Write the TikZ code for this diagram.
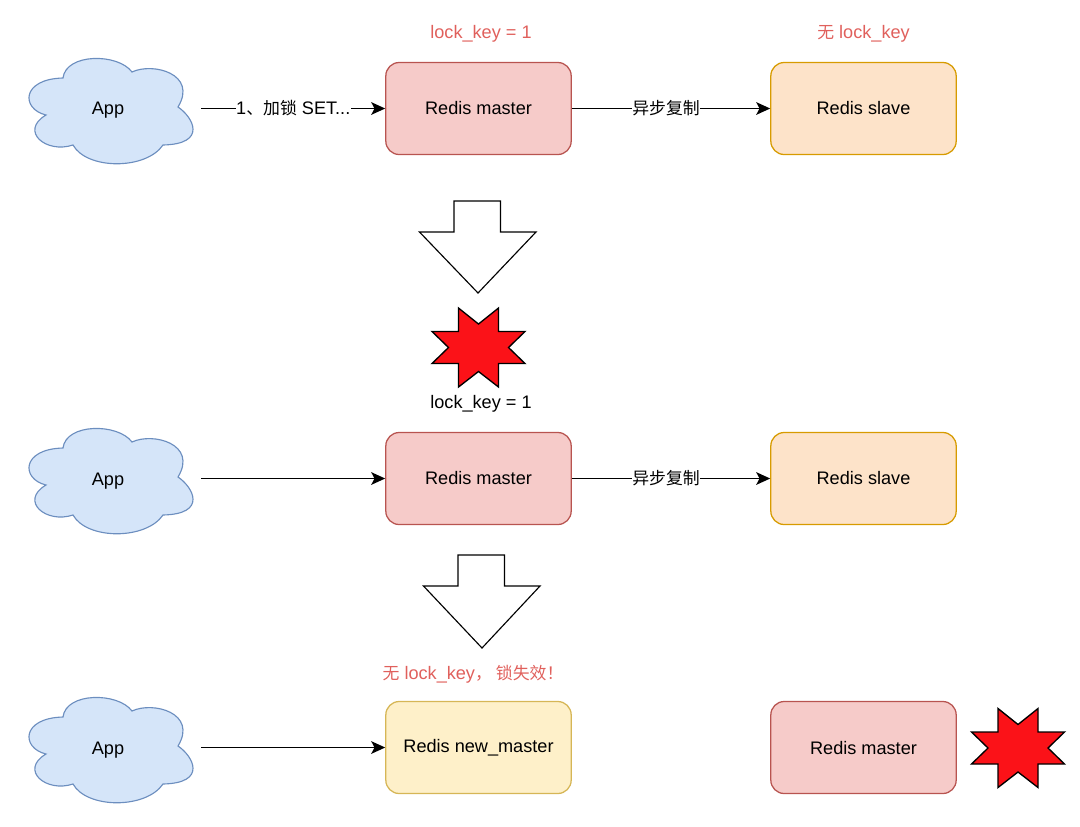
\documentclass[tikz,border=0pt]{standalone}
\usepackage{fontspec}
\setmainfont{Liberation Sans}
\newfontfamily\cjk[Scale=0.93]{Noto Sans CJK SC}
\usetikzlibrary{arrows.meta}
\definecolor{cloudfill}{HTML}{D5E5F9}
\definecolor{cloudline}{HTML}{6C8EBF}
\definecolor{masterfill}{HTML}{F6CBC9}
\definecolor{masterline}{HTML}{B85450}
\definecolor{slavefill}{HTML}{FDE3C9}
\definecolor{slaveline}{HTML}{D79B00}
\definecolor{newfill}{HTML}{FEF0C9}
\definecolor{newline}{HTML}{D6B656}
\definecolor{alertred}{HTML}{E0605C}
\definecolor{starred}{HTML}{FB1218}
\tikzset{
    box/.style={draw, line width=0.95pt, rounded corners=10pt, minimum width=139pt, minimum height=69pt, inner sep=0pt},
    masterbox/.style={box, draw=masterline, fill=masterfill},
    slavebox/.style={box, draw=slaveline, fill=slavefill},
    newbox/.style={box, draw=newline, fill=newfill},
    appnode/.style={minimum width=139.5pt, text depth=0pt, inner sep=0pt},
    link/.style={line width=1pt, -{Stealth[length=10.5pt,width=9.5pt,inset=2.5pt]}},
    linklabel/.style={fill=white, inner sep=0.5pt},
    keylabel/.style={text depth=0pt},
    alert/.style={keylabel, text=alertred},
    downarrow/.style={draw, line width=0.85pt, fill=white, line join=miter},
    pics/appcloud/.style={code={
        \draw[draw=cloudline, fill=cloudfill, line width=0.85pt]
            (-45,-31) .. controls (-42,-56) and (10,-56) .. (24,-37)
            .. controls (45,-47) and (90,-35) .. (70,-2)
            .. controls (85,8) and (100,35) .. (55,36)
            .. controls (38,61) and (-21,61) .. (-35,36)
            .. controls (-62,45) and (-89,22) .. (-62,6)
            .. controls (-87,0) and (-87,-30) .. (-45,-31) -- cycle;
    }},
    pics/burst/.style={code={
        \draw[fill=starred, line width=1pt, line join=miter]
            (-20,-39.5) -- (0,-23.5) -- (20,-39.5) -- (20,-16) -- (46.5,-16) -- (30,0)
            -- (46.5,16) -- (20,16) -- (20,39.5) -- (0,24) -- (-20,39.5) -- (-20,16)
            -- (-46.5,16) -- (-30,0) -- (-46.5,-16) -- (-20,-16) -- cycle;
    }}
}
\begin{document}
\begin{tikzpicture}[x=0.75pt, y=-0.75pt, font=\fontsize{13.6}{16}\selectfont]
    \useasboundingbox (0,0) rectangle (1080,826);

    % First row
    \pic at (108,109) {appcloud};
    \node[appnode] (appA) at (108,108.5) {App};
    \node[masterbox] (masterA) at (478.5,108.5) {Redis master};
    \node[slavebox] (slaveA) at (863.5,108.5) {Redis slave};
    \node[alert] (keyA) at (481,32) {lock\_key = 1};
    \node[alert] (keyB) at (863.5,32) {{\cjk 无} lock\_key};
    \draw[link] (appA) -- node[linklabel] (setlabel) {1{\cjk 、加锁} SET...} (masterA);
    \draw[link] (masterA) -- node[linklabel, pos=0.475] (copyA) {\cjk 异步复制} (slaveA);

    % Arrow down and crash
    \draw[downarrow] (454,201) -- (500.5,201) -- (500.5,232) -- (536,232) -- (478,293) -- (419.5,232) -- (454,232) -- cycle;
    \pic at (478.5,347.5) {burst};

    % Second row
    \pic at (108,479) {appcloud};
    \node[appnode] (appB) at (108,479) {App};
    \node[masterbox] (masterB) at (478.5,478.5) {Redis master};
    \node[slavebox] (slaveB) at (863.5,478.5) {Redis slave};
    \node[keylabel] (keyC) at (481,402) {lock\_key = 1};
    \draw[link] (appB.east |- masterB) -- (masterB);
    \draw[link] (masterB) -- node[linklabel, pos=0.475] (copyB) {\cjk 异步复制} (slaveB);

    % Arrow down again
    \draw[downarrow] (458,555) -- (504.5,555) -- (504.5,586) -- (540,586) -- (482,648) -- (423.5,586) -- (458,586) -- cycle;

    % Third row
    \pic at (108,748) {appcloud};
    \node[appnode] (appC) at (108,748) {App};
    \node[newbox] (newmaster) at (478.5,747.5) {Redis new\_master};
    \node[masterbox] (masterC) at (863.5,747.5) {Redis master};
    \node[alert] (keyD) at (473,672) {{\cjk 无} lock\_key{\cjk ，\hspace{3pt}锁失效！}};
    \draw[link] (appC.east |- newmaster) -- (newmaster);
    \pic at (1018,748) {burst};
\end{tikzpicture}
\end{document}
